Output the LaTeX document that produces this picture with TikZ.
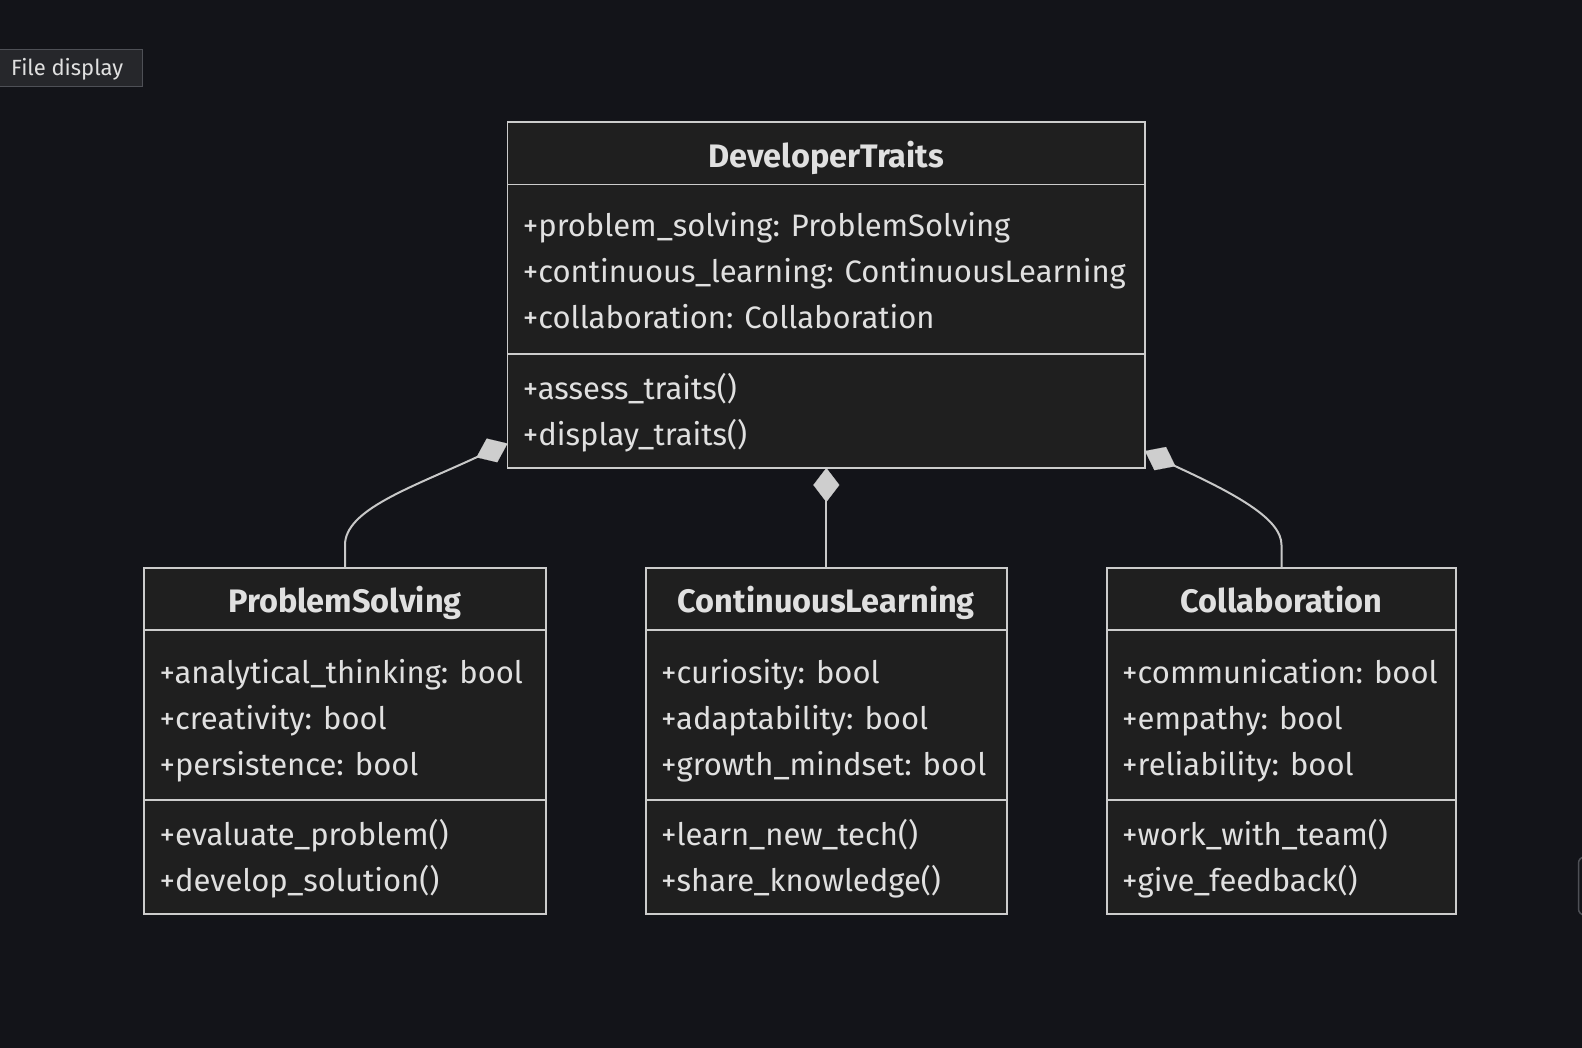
\documentclass[tikz,border=0pt]{standalone}
\usepackage{fontspec}
\setmainfont{Fira Sans}
\usetikzlibrary{arrows.meta}
\definecolor{bg}{RGB}{19,20,25}
\definecolor{boxfill}{RGB}{31,31,31}
\definecolor{boxline}{RGB}{204,204,204}
\definecolor{txt}{RGB}{224,224,224}
\definecolor{connline}{RGB}{200,200,200}
\definecolor{diamondfill}{RGB}{206,206,206}
\definecolor{btnfill}{RGB}{38,39,43}
\definecolor{btnline}{RGB}{78,80,86}
\tikzset{
  classbox/.style={draw=boxline, fill=boxfill, line width=1.8pt, rectangle, inner sep=0pt, outer sep=0pt, anchor=north west, minimum height=346pt},
  divider/.style={draw=boxline, line width=1.8pt},
  classtitle/.style={text=txt, font=\fontsize{32.5}{38}\selectfont\bfseries, anchor=base, inner sep=0pt},
  member/.style={text=txt, font=\fontsize{31}{36}\selectfont, anchor=base west, inner sep=0pt},
  conn/.style={draw=connline, line width=2pt, -{Diamond[length=34pt 0, width=26pt 0, fill=diamondfill, color=diamondfill, line width=0.1pt]}},
  btn/.style={draw=btnline, fill=btnfill, line width=1pt, rectangle, inner sep=0pt, outer sep=0pt, anchor=north west},
  btntext/.style={text=txt, font=\fontsize{22}{26}\selectfont, anchor=base west, inner sep=0pt},
}
\begin{document}
\begin{tikzpicture}[x=1pt,y=-1pt]
\useasboundingbox (0,0) rectangle (1582,1048);
\fill[bg] (0,0) rectangle (1582,1048);

% file display button
\node[btn, minimum width=144pt, minimum height=37pt] (btn) at (-2,50) {};
\node[btntext] (btnlabel) at (11,75.5) {File display};

% partial widget at right edge
\begin{scope}
\clip (0,0) rectangle (1582,1048);
\draw[btnline, line width=1.5pt, rounded corners=6pt] (1578.5,857) rectangle (1610,915);
\end{scope}

% DeveloperTraits
\node[classbox, minimum width=637.5pt] (dt) at (507.5,122) {};
\draw[divider] ([yshift=-62.5pt]dt.north west) -- ([yshift=-62.5pt]dt.north east);
\draw[divider] ([yshift=-232pt]dt.north west) -- ([yshift=-232pt]dt.north east);
\node[classtitle] (dtt) at (826.3,167.5) {DeveloperTraits};
\node[member] (dta1) at (522.7,237) {+problem\_solving: ProblemSolving};
\node[member] (dta2) at (522.7,283) {+continuous\_learning: ContinuousLearning};
\node[member] (dta3) at (522.7,329) {+collaboration: Collaboration};
\node[member] (dtm1) at (522.7,399.5) {+assess\_traits()};
\node[member] (dtm2) at (522.7,445) {+display\_traits()};

% ProblemSolving
\node[classbox, minimum width=402pt] (ps) at (144,568) {};
\draw[divider] ([yshift=-62pt]ps.north west) -- ([yshift=-62pt]ps.north east);
\draw[divider] ([yshift=-232pt]ps.north west) -- ([yshift=-232pt]ps.north east);
\node[classtitle] (pst) at (345,612.5) {ProblemSolving};
\node[member] (psa1) at (159.4,683) {+analytical\_thinking: bool};
\node[member] (psa2) at (159.4,729) {+creativity: bool};
\node[member] (psa3) at (159.4,775) {+persistence: bool};
\node[member] (psm1) at (159.4,845.5) {+evaluate\_problem()};
\node[member] (psm2) at (159.4,891) {+develop\_solution()};

% ContinuousLearning
\node[classbox, minimum width=360.7pt] (cl) at (646,568) {};
\draw[divider] ([yshift=-62pt]cl.north west) -- ([yshift=-62pt]cl.north east);
\draw[divider] ([yshift=-232pt]cl.north west) -- ([yshift=-232pt]cl.north east);
\node[classtitle] (clt) at (826.3,612.5) {ContinuousLearning};
\node[member] (cla1) at (661,683) {+curiosity: bool};
\node[member] (cla2) at (661,729) {+adaptability: bool};
\node[member] (cla3) at (661,775) {+growth\_mindset: bool};
\node[member] (clm1) at (661,845.5) {+learn\_new\_tech()};
\node[member] (clm2) at (661,891) {+share\_knowledge()};

% Collaboration
\node[classbox, minimum width=349pt] (co) at (1107,568) {};
\draw[divider] ([yshift=-62pt]co.north west) -- ([yshift=-62pt]co.north east);
\draw[divider] ([yshift=-232pt]co.north west) -- ([yshift=-232pt]co.north east);
\node[classtitle] (cot) at (1281.5,612.5) {Collaboration};
\node[member] (coa1) at (1122,683) {+communication: bool};
\node[member] (coa2) at (1122,729) {+empathy: bool};
\node[member] (coa3) at (1122,775) {+reliability: bool};
\node[member] (com1) at (1122,845.5) {+work\_with\_team()};
\node[member] (com2) at (1122,891) {+give\_feedback()};

% connectors
\coordinate (dtL) at (507.5,443.5);
\coordinate (dtR) at (1145,451);
\draw[conn] (ps.north) -- (345,545) .. controls (345,510) and (410,488) .. (475,458) -- (dtL);
\draw[conn] (cl.north) -- (cl.north |- dt.south);
\draw[conn] (co.north) -- (1281.5,545) .. controls (1281.5,520) and (1240,496) .. (1177,467) -- (dtR);
\end{tikzpicture}
\end{document}
